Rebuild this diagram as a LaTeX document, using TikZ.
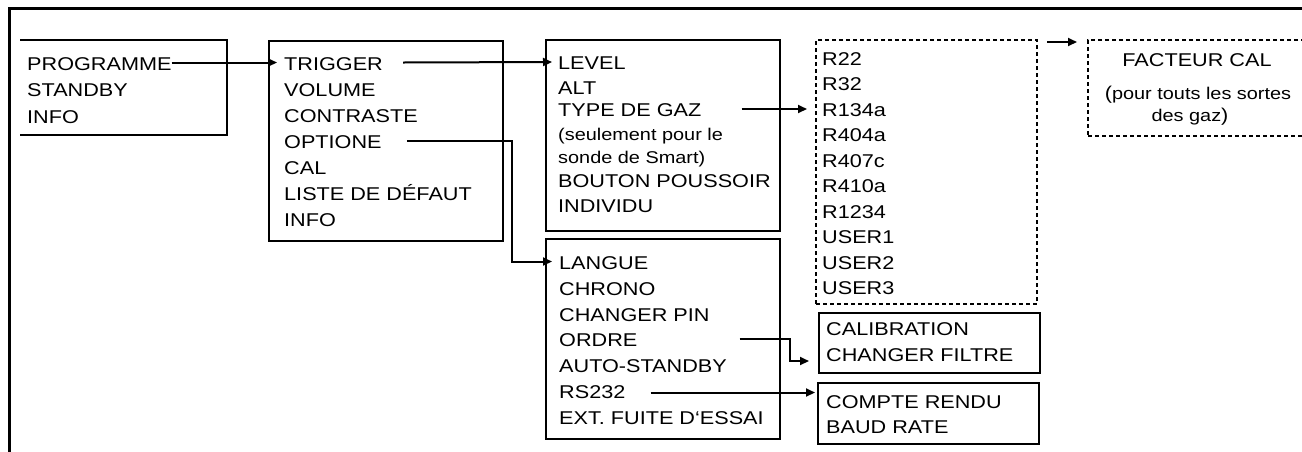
\documentclass[tikz,border=0pt]{standalone}
\usepackage{fontspec}
\setmainfont{Liberation Sans}[FakeStretch=1.17]
\usetikzlibrary{arrows.meta,calc}
\newcommand\fsN{\fontsize{18.5}{25}\selectfont}
\newcommand\fsS{\fontsize{17}{20}\selectfont}
\begin{document}
\begin{tikzpicture}[x=1pt,y=-1pt,
  frame/.style={line width=3pt, line join=miter},
  boxline/.style={line width=2pt, line join=miter},
  box/.style={draw, line width=2pt, inner sep=0pt, anchor=north west},
  dotbox/.style={draw, line width=2pt, dash pattern=on 4pt off 3pt, inner sep=0pt, anchor=north west},
  item/.style={anchor=base west, inner sep=0pt, font=\fsN, text height=15pt, text depth=0pt},
  sitem/.style={item, font=\fsS},
  arr/.style={line width=2pt, -{Triangle[length=9pt,width=8pt]}}]
\useasboundingbox (0,0) rectangle (1302,451);
\clip (0,0) rectangle (1302,451);
\fill[white] (0,0) rectangle (1302,451);
% outer frame
\draw[frame] (9,452) -- (9,8) -- (1303,8);
% box 1 (open on the left)
\node[anchor=north west, inner sep=0pt, minimum width=207pt, minimum height=95pt] (b1) at (20,40) {};
\draw[boxline] (b1.north west) -- (b1.north east) -- (b1.south east) -- (b1.south west);
\node[item] (prog) at (27,70) {PROGRAMME};
\node[item] (stby) at (27,96.5) {STANDBY};
\node[item] (info1) at (27,123) {INFO};
% box 2
\node[box, minimum width=234pt, minimum height=200pt] (b2) at (268,40) {};
\node[item] (trig) at (284,70) {TRIGGER};
\node[item] (vol) at (284,96) {VOLUME};
\node[item] (contr) at (284,122) {CONTRASTE};
\node[item] (opt) at (284,148) {OPTIONE};
\node[item] (cal) at (284,174) {CAL};
\node[item] (liste) at (284,200) {LISTE DE DÉFAUT};
\node[item] (info2) at (284,226) {INFO};
% box 3
\node[box, minimum width=234pt, minimum height=191pt] (b3) at (545,39) {};
\node[item] (level) at (558,69.5) {LEVEL};
\node[item] (alt) at (558,94.5) {ALT};
\node[item] (type) at (558,116.5) {TYPE DE GAZ};
\node[sitem] (seul) at (558,140) {(seulement pour le};
\node[sitem] (sonde) at (558,163) {sonde de Smart)};
\node[item] (bout) at (558,187) {BOUTON POUSSOIR};
\node[item] (indiv) at (558,212.5) {INDIVIDU};
% box 4
\node[box, minimum width=234pt, minimum height=200pt] (b4) at (545,238) {};
\node[item] (lang) at (559,269) {LANGUE};
\node[item] (chrono) at (559,295) {CHRONO};
\node[item] (pin) at (559,321) {CHANGER PIN};
\node[item] (ord) at (559,346.5) {ORDRE};
\node[item] (auto) at (559,372) {AUTO-STANDBY};
\node[item] (rs) at (559,398) {RS232};
\node[item] (ext) at (559,424) {EXT. FUITE D‘ESSAI};
% gas list (dotted)
\node[dotbox, minimum width=221pt, minimum height=264pt] (rb) at (815,39) {};
\foreach \t [count=\i] in {R22,R32,R134a,R404a,R407c,R410a,R1234,USER1,USER2,USER3}
  \node[item] (r\i) at (822,{65+25.55*(\i-1)}) {\t};
% calibration factor (dotted)
\node[dotbox, minimum width=225pt, minimum height=96pt] (fb) at (1087,39) {};
\node[anchor=base, inner sep=0pt, font=\fsN] (fc) at (1197,66) {FACTEUR CAL};
\node[anchor=base, inner sep=0pt] (fp1) at (1198,99) {{\fsN(}{\fsS pour touts les sortes}};
\node[anchor=base, inner sep=0pt] (fp2) at (1190,121) {{\fsS des gaz}{\fsN)}};
% calibration box
\node[box, minimum width=221pt, minimum height=60pt] (calb) at (818,312) {};
\node[item] (calib) at (826,335) {CALIBRATION};
\node[item] (filt) at (826,361) {CHANGER FILTRE};
% compte rendu box
\node[box, minimum width=221pt, minimum height=61pt] (compb) at (817,382) {};
\node[item] (compte) at (826,408) {COMPTE RENDU};
\node[item] (baud) at (826,433) {BAUD RATE};
% connectors
\draw[arr] (prog.east) -- ($(trig.west)+(-7,0)$);
\draw[arr] ($(trig.east)+(20,0)$) -- ($(level.west)+(-6,0)$);
\draw[arr] ($(opt.east)+(25,0)$) -- ($(b2.east |- opt.east)+(8,0)$) |- ($(lang.west)+(-7,0)$);
\draw[arr] ($(type.east)+(40,0)$) -- ($(type.east -| r3.west)+(-15,0)$);
\draw[arr] ($(rb.north east)+(9,3)$) -- ($(fb.north west)+(-10,3)$);
\draw[arr] ($(ord.east)+(102,0)$) -- ($(b4.east |- ord.east)+(9,0)$) |- ($(calb.south west)+(-9,-13)$);
\draw[arr] ($(rs.east)+(25,2)$) -- ($(rs.east -| compb.west)+(-2,2)$);
\end{tikzpicture}
\end{document}
